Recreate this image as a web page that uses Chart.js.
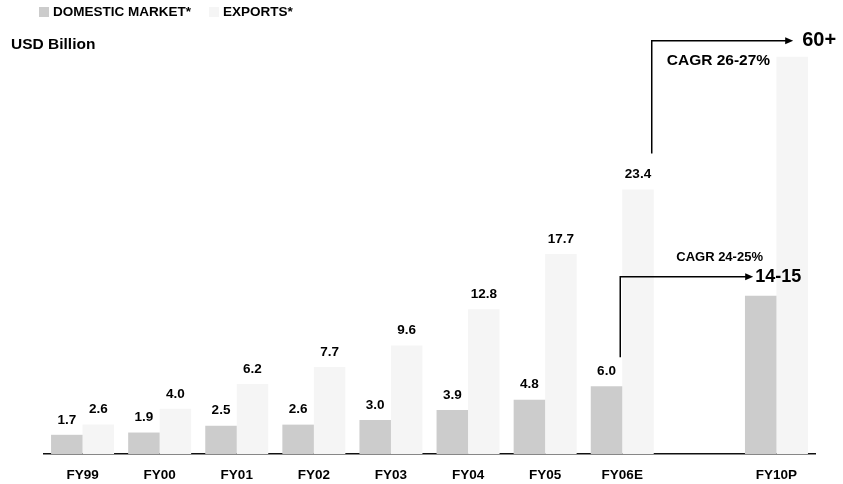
<!DOCTYPE html>
<html>
<head>
<meta charset="utf-8">
<script src="https://cdn.jsdelivr.net/npm/chart.js@4.4.0/dist/chart.umd.min.js"></script>
<style>
  html, body { margin: 0; padding: 0; background: #ffffff; }
  #wrap { width: 843px; height: 484px; position: relative; }
</style>
</head>
<body>
<div id="wrap"><canvas id="c" width="843" height="484"></canvas></div>
<script>
// Fiscal years; the empty slot separates actuals from the FY10 projection
const categories = ['FY99', 'FY00', 'FY01', 'FY02', 'FY03', 'FY04', 'FY05', 'FY06E', '', 'FY10P'];
// USD billion
const domestic = [1.7, 1.9, 2.5, 2.6, 3.0, 3.9, 4.8, 6.0, null, 14];
const exportsData = [2.6, 4.0, 6.2, 7.7, 9.6, 12.8, 17.7, 23.4, null, 60];
const seriesNames = ['DOMESTIC MARKET*', 'EXPORTS*'];
const unitLabel = 'USD Billion';
const targetLabels = ['14-15', '60+'];
const cagrLabels = ['CAGR 24-25%', 'CAGR 26-27%'];

const COLORS = ['#cccccc', '#f5f5f5'];
const FONT = 'Arial, "Liberation Sans", sans-serif';
const bold = (s) => `bold ${s}px ${FONT}`;

// Value axis with a compressed segment above BREAK_AT, so the FY10 target fits
const BREAK_AT = 25;
const SQUEEZE = 0.29;
class BrokenLinearScale extends Chart.LinearScale {
  squeeze(v) { return v > BREAK_AT ? BREAK_AT + (v - BREAK_AT) * SQUEEZE : v; }
  getPixelForValue(v) {
    return (v === null || v === undefined) ? NaN : super.getPixelForValue(this.squeeze(v));
  }
  getValueForPixel(p) {
    const d = super.getValueForPixel(p);
    return d > BREAK_AT ? BREAK_AT + (d - BREAK_AT) / SQUEEZE : d;
  }
}
BrokenLinearScale.id = 'brokenLinear';
BrokenLinearScale.defaults = Chart.LinearScale.defaults;
Chart.register(BrokenLinearScale);

const projectedIndex = categories.indexOf('FY10P');
const lastActualIndex = categories.indexOf('FY06E');

function arrow(ctx, x0, y0, yTop, xTip) {
  ctx.beginPath();
  ctx.moveTo(x0, y0);
  ctx.lineTo(x0, yTop);
  ctx.lineTo(xTip - 7, yTop);
  ctx.stroke();
  ctx.beginPath();
  ctx.moveTo(xTip, yTop);
  ctx.lineTo(xTip - 8, yTop - 3.5);
  ctx.lineTo(xTip - 8, yTop + 3.5);
  ctx.closePath();
  ctx.fill();
}

const annotations = {
  id: 'annotations',
  afterDatasetsDraw(chart) {
    const ctx = chart.ctx;
    ctx.save();
    ctx.fillStyle = '#000';
    ctx.strokeStyle = '#000';

    // value labels above historical bars
    ctx.font = bold(13.5);
    ctx.textAlign = 'center';
    ctx.textBaseline = 'middle';
    chart.data.datasets.forEach((ds, di) => {
      chart.getDatasetMeta(di).data.forEach((bar, i) => {
        if (ds.data[i] == null || i > lastActualIndex) return;
        ctx.fillText(ds.data[i].toFixed(1), bar.x, bar.y - 15);
      });
    });

    // growth arrows from FY06E to FY10P
    ctx.lineWidth = 1.5;
    const dropBelow = [29, 36];
    const riseAbove = [19, 16];
    const tipShift = [-7.5, 1];
    const targetGap = [2, 9];
    const targetSize = [18, 20];
    const cagrSize = [13, 15.5];
    const cagrDx = [56, 15];
    const cagrDy = [-19, 20];
    [0, 1].forEach((di) => {
      const meta = chart.getDatasetMeta(di);
      const from = meta.data[lastActualIndex];
      const to = meta.data[projectedIndex];
      const x0 = from.x + from.width / 2 - 2;
      const y0 = from.y - dropBelow[di];
      const yTop = to.y - riseAbove[di];
      const xTip = to.x + tipShift[di];
      arrow(ctx, x0, y0, yTop, xTip);
      ctx.textAlign = 'left';
      ctx.textBaseline = 'middle';
      ctx.font = bold(targetSize[di]);
      ctx.fillText(targetLabels[di], xTip + targetGap[di], yTop);
      ctx.font = bold(cagrSize[di]);
      ctx.fillText(cagrLabels[di], x0 + cagrDx[di], yTop + cagrDy[di]);
    });

    // legend and unit caption
    ctx.font = bold(13.5);
    ctx.textAlign = 'left';
    ctx.textBaseline = 'middle';
    let lx = 39;
    seriesNames.forEach((name, di) => {
      ctx.fillStyle = COLORS[di];
      ctx.fillRect(lx, 7, 10, 10);
      ctx.fillStyle = '#000';
      ctx.fillText(name, lx + 14, 12.5);
      lx += 14 + ctx.measureText(name).width + 18;
    });
    ctx.font = bold(15.5);
    ctx.fillText(unitLabel, 11, 45);
    ctx.restore();
  }
};

new Chart(document.getElementById('c'), {
  type: 'bar',
  data: {
    labels: categories,
    datasets: [
      { label: seriesNames[0], data: domestic, backgroundColor: COLORS[0], borderWidth: 0 },
      { label: seriesNames[1], data: exportsData, backgroundColor: COLORS[1], borderWidth: 0 }
    ]
  },
  options: {
    responsive: false,
    animation: false,
    devicePixelRatio: 1,
    layout: { padding: { top: 40, left: 44, right: 28, bottom: 0 } },
    plugins: { legend: { display: false }, tooltip: { enabled: false } },
    datasets: { bar: { categoryPercentage: 0.817, barPercentage: 1.0 } },
    scales: {
      x: {
        grid: { display: false, drawTicks: false },
        border: { display: true, color: '#111', width: 1.5 },
        ticks: { color: '#000', font: { family: FONT, size: 13.5, weight: 'bold' }, padding: 13, maxRotation: 0, autoSkip: false },
        afterFit(scale) { scale.height = 30; }
      },
      y: {
        type: 'brokenLinear',
        display: false,
        min: 0,
        max: 36.64
      }
    }
  },
  plugins: [annotations]
});
</script>
</body>
</html>
